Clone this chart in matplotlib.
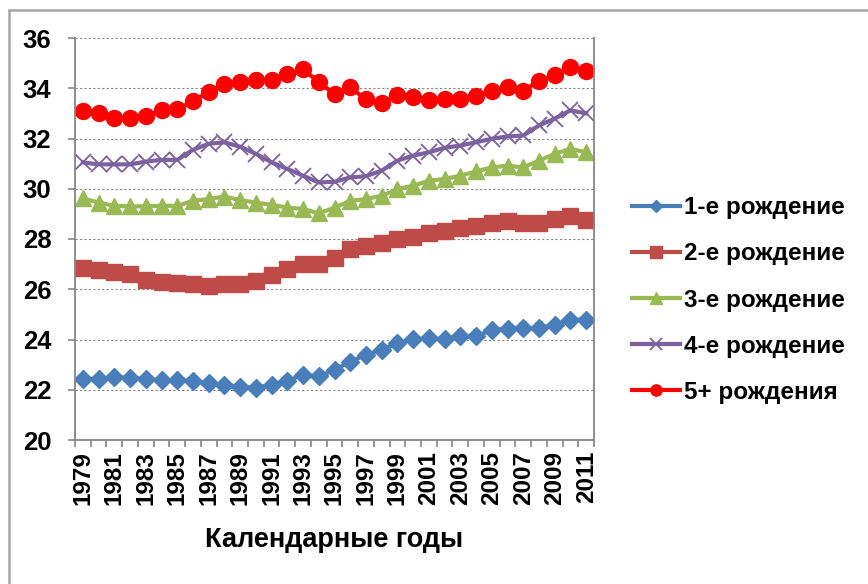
import numpy as np
import matplotlib
matplotlib.use('Agg')
import matplotlib.pyplot as plt
from matplotlib.patches import Rectangle

plt.rcParams['font.family'] = ['Liberation Sans', 'DejaVu Sans']
plt.rcParams['font.weight'] = 'bold'

years = list(range(1979, 2012))

# средний возраст матери по очерёдности рождения
first = [22.43, 22.43, 22.50, 22.47, 22.42, 22.38, 22.38, 22.35, 22.25, 22.20, 22.12,
         22.08, 22.20, 22.35, 22.60, 22.53, 22.79, 23.12, 23.39, 23.59, 23.85, 24.01,
         24.05, 24.01, 24.12, 24.12, 24.39, 24.43, 24.45, 24.45, 24.59, 24.79, 24.79]
second = [26.85, 26.75, 26.69, 26.59, 26.35, 26.29, 26.25, 26.19, 26.12, 26.19, 26.21,
          26.32, 26.55, 26.79, 27.01, 27.00, 27.25, 27.59, 27.72, 27.85, 27.99, 28.08,
          28.25, 28.30, 28.45, 28.52, 28.62, 28.70, 28.65, 28.65, 28.80, 28.90, 28.75]
third = [29.62, 29.45, 29.32, 29.30, 29.30, 29.32, 29.32, 29.52, 29.59, 29.69, 29.55,
         29.45, 29.36, 29.25, 29.20, 29.02, 29.25, 29.52, 29.59, 29.72, 29.99, 30.12,
         30.32, 30.39, 30.52, 30.69, 30.85, 30.92, 30.85, 31.12, 31.39, 31.59, 31.45]
fourth = [31.05, 30.97, 30.97, 30.97, 31.08, 31.15, 31.15, 31.55, 31.79, 31.85, 31.67,
          31.39, 31.05, 30.79, 30.52, 30.25, 30.28, 30.45, 30.50, 30.72, 31.12, 31.32,
          31.45, 31.63, 31.72, 31.85, 31.99, 32.08, 32.12, 32.52, 32.79, 33.12, 33.00]
fifth = [33.08, 33.00, 32.83, 32.83, 32.90, 33.12, 33.16, 33.48, 33.85, 34.15, 34.23,
         34.32, 34.32, 34.55, 34.75, 34.25, 33.76, 34.03, 33.56, 33.41, 33.75, 33.65,
         33.55, 33.59, 33.59, 33.68, 33.89, 34.03, 33.89, 34.29, 34.52, 34.83, 34.70]

labels = ['1-е рождение', '2-е рождение', '3-е рождение', '4-е рождение', '5+ рождения']

fig = plt.figure(figsize=(8.68, 5.84), dpi=100)
ax = fig.add_axes([75/868, 1-440/584, (594-75)/868, (440-38)/584])

x = np.arange(len(years))
lw = 3
ax.plot(x, first, color='#4A7EBB', lw=lw, marker='D', ms=9, mec='#4A7EBB', label=labels[0])
ax.plot(x, second, color='#BE4B48', lw=lw, marker='s', ms=11.5, mec='#BE4B48', label=labels[1])
ax.plot(x, third, color='#98B954', lw=lw, marker='^', ms=11.5, mec='#98B954', label=labels[2])
ax.plot(x, fourth, color='#7D60A0', lw=lw, marker='x', ms=11.5, mew=1.3, mec='#7D60A0', label=labels[3])
ax.plot(x, fifth, color='#FF0000', lw=lw, marker='o', ms=11.5, mec='#FF0000', label=labels[4])

ax.set_ylim(20, 36)
ax.set_yticks(range(20, 37, 2))
ax.set_xlim(-0.5, len(years) - 0.5)
ax.set_xticks(x[::2])
ax.set_xticklabels([str(y) for y in years[::2]], rotation=90)
ax.set_xticks(np.arange(-0.5, len(years), 1), minor=True)
ax.tick_params(axis='x', which='major', length=0, pad=8, labelsize=17.5)
ax.tick_params(axis='x', which='minor', length=5, color='#868686', width=1.2)
ax.tick_params(axis='y', length=5, color='#868686', width=1.2, labelsize=18.5, pad=12)

ax.grid(axis='y', color='#868686', ls=(0, (2, 2)), lw=0.8)
for s in ['left', 'bottom', 'right']:
    ax.spines[s].set_color('#868686')
    ax.spines[s].set_linewidth(1.3)
ax.spines['top'].set_visible(False)

ax.set_xlabel('Календарные годы', fontsize=19.5, fontweight='bold', labelpad=16)

fig.legend(loc='center left', bbox_to_anchor=(610/868, 1-300/584), frameon=False,
           fontsize=17.5, handlelength=2.0, handletextpad=0.15, labelspacing=0.95,
           markerscale=0.7)

fig.patches.append(Rectangle((8.5/868, -0.1), 2, (584-10)/584 + 0.1, transform=fig.transFigure,
                             fill=False, edgecolor='#A6A6A6', lw=1.8))

fig.savefig('out.png', dpi=100)
